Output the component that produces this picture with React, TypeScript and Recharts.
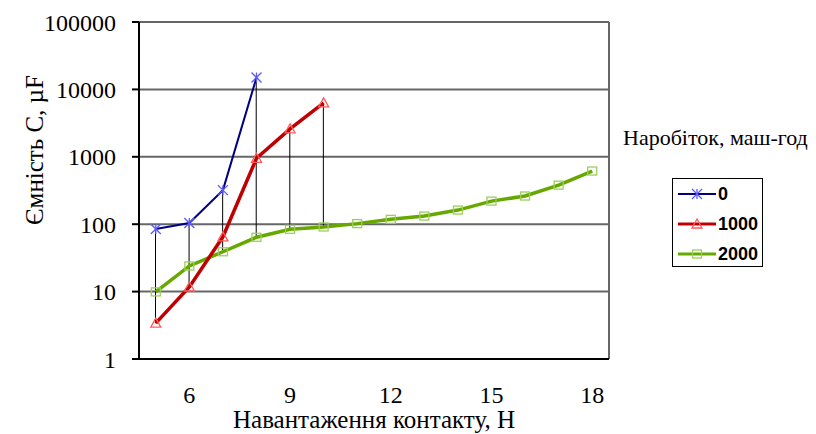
import React from 'react';
import { ComposedChart, Line, Bar, XAxis, YAxis, CartesianGrid, ReferenceLine, Legend, Label } from 'recharts';

const loads = [5, 6, 7, 8, 9, 10, 11, 12, 13, 14, 15, 16, 17, 18];
const series0 = [85, 104, 320, 15000, null, null, null, null, null, null, null, null, null, null];
const series1 = [3.4, 11.7, 65, 950, 2600, 6300, null, null, null, null, null, null, null, null];
const series2 = [9.9, 24, 39, 64, 84, 91, 102, 118, 132, 162, 220, 262, 380, 615];
const seriesNames = ['0', '1000', '2000'];
const xTicks = [6, 9, 12, 15, 18];
const yTicks = [1, 10, 100, 1000, 10000, 100000];

const xTitle = 'Навантаження контакту, Н';
const yTitle = 'Ємність С, µF';
const legendTitle = 'Наробіток, маш-год';

const data = loads.map((x, i) => {
  const vals = [series0[i], series1[i], series2[i]].filter((v) => v != null) as number[];
  return {
    x,
    s0: series0[i],
    s1: series1[i],
    s2: series2[i],
    hl: vals.length > 1 ? [Math.min(...vals), Math.max(...vals)] : null,
  };
});

const BLUE = '#000080';
const BLUE_M = '#5a5aff';
const RED = '#c00000';
const RED_M = '#ff5a5a';
const GREEN = '#66a800';
const GREEN_M = '#9ad05a';

const SERIF = '"Liberation Serif", "Times New Roman", serif';
const SANS = '"Liberation Sans", Arial, sans-serif';

const StarMark = ({ cx, cy, color }: any) => (
  <g>
    <line x1={cx - 5} y1={cy - 5} x2={cx + 5} y2={cy + 5} stroke={color} strokeWidth={1.3} />
    <line x1={cx - 5} y1={cy + 5} x2={cx + 5} y2={cy - 5} stroke={color} strokeWidth={1.3} />
    <line x1={cx} y1={cy - 5} x2={cx} y2={cy + 5} stroke={color} strokeWidth={1.3} />
  </g>
);
const TriMark = ({ cx, cy, color }: any) => (
  <polygon points={`${cx},${cy - 5} ${cx + 5},${cy + 4} ${cx - 5},${cy + 4}`} fill="none" stroke={color} strokeWidth={1.3} />
);
const SqMark = ({ cx, cy, color }: any) => (
  <rect x={cx - 4.5} y={cy - 4} width={9} height={8} fill="none" stroke={color} strokeWidth={1.3} />
);

const mkDot = (Comp: any, color: string) => (props: any) => {
  const { cx, cy, index, value } = props;
  if (cx == null || cy == null || value == null) return <g key={`d${index}`} />;
  return (
    <g key={`d${index}`}>
      <Comp cx={cx} cy={cy} color={color} />
    </g>
  );
};

const legendItems = [
  { name: seriesNames[0], line: BLUE, mark: BLUE_M, Comp: StarMark },
  { name: seriesNames[1], line: RED, mark: RED_M, Comp: TriMark },
  { name: seriesNames[2], line: GREEN, mark: GREEN_M, Comp: SqMark },
];

const renderLegend = () => (
  <div style={{ position: 'relative', width: 200, height: 150 }}>
    <div style={{ position: 'absolute', left: 3, top: 3, fontFamily: SERIF, fontSize: 22, whiteSpace: 'nowrap', color: '#000' }}>
      {legendTitle}
    </div>
    <div
      style={{
        position: 'absolute',
        left: 52,
        top: 56,
        width: 91,
        height: 89,
        border: '1.5px solid #000',
        background: '#fff',
        boxSizing: 'border-box',
      }}
    >
      {legendItems.map((it, i) => (
        <div key={it.name} style={{ position: 'absolute', left: 4, top: 5 + i * 30, height: 20, display: 'flex', alignItems: 'center' }}>
          <svg width={40} height={20} style={{ display: 'block' }}>
            <line x1={1} y1={10} x2={39} y2={10} stroke={it.line} strokeWidth={i === 0 ? 2 : 3} />
            <it.Comp cx={20} cy={10} color={it.mark} />
          </svg>
          <span style={{ fontFamily: SANS, fontWeight: 'bold', fontSize: 18, marginLeft: 1, color: '#000' }}>{it.name}</span>
        </div>
      ))}
    </div>
  </div>
);

export default function App() {
  return (
    <div style={{ position: 'absolute', left: 0, top: 0, width: 816, height: 434, background: '#fff' }}>
      <ComposedChart width={816} height={434} data={data} margin={{ top: 22, right: 207, bottom: 0, left: 0 }}>
        <CartesianGrid vertical={false} stroke="#666" strokeWidth={2} />
        <XAxis
          dataKey="x"
          type="number"
          domain={[4.5, 18.5]}
          ticks={xTicks}
          interval={0}
          height={75}
          tickLine={false}
          tickMargin={21}
          axisLine={{ stroke: '#000', strokeWidth: 2 }}
          tick={{ fontFamily: SERIF, fontSize: 24, fill: '#000' }}
        >
          <Label value={xTitle} position="insideBottom" offset={6} style={{ fontFamily: SERIF, fontSize: 25, fill: '#000' }} />
        </XAxis>
        <YAxis
          scale="log"
          domain={[1, 100000]}
          ticks={yTicks}
          interval={0}
          allowDataOverflow
          width={139}
          tickSize={7}
          tickMargin={16}
          axisLine={{ stroke: '#000', strokeWidth: 2 }}
          tickLine={{ stroke: '#000', strokeWidth: 2 }}
          tick={{ fontFamily: SERIF, fontSize: 24, fill: '#000' }}
        >
          <Label
            content={() => (
              <text
                transform="translate(34,150) rotate(-90)"
                textAnchor="middle"
                dominantBaseline="central"
                style={{ fontFamily: SERIF, fontSize: 25, fill: '#000' }}
              >
                {yTitle}
              </text>
            )}
          />
        </YAxis>
        <ReferenceLine x={18.5} stroke="#666" strokeWidth={2} />
        <Bar dataKey="hl" barSize={1} fill="#000" isAnimationActive={false} legendType="none" />
        <Line
          dataKey="s2"
          name={seriesNames[2]}
          stroke={GREEN}
          strokeWidth={3.5}
          dot={mkDot(SqMark, GREEN_M)}
          activeDot={false}
          isAnimationActive={false}
        />
        <Line
          dataKey="s1"
          name={seriesNames[1]}
          stroke={RED}
          strokeWidth={3.5}
          dot={mkDot(TriMark, RED_M)}
          activeDot={false}
          isAnimationActive={false}
        />
        <Line
          dataKey="s0"
          name={seriesNames[0]}
          stroke={BLUE}
          strokeWidth={2}
          dot={mkDot(StarMark, BLUE_M)}
          activeDot={false}
          isAnimationActive={false}
        />
        <Legend
          content={renderLegend}
          layout="horizontal"
          verticalAlign="middle"
          align="center"
          wrapperStyle={{ position: 'absolute', left: 620, top: 122, width: 200, height: 150 }}
        />
      </ComposedChart>
    </div>
  );
}
